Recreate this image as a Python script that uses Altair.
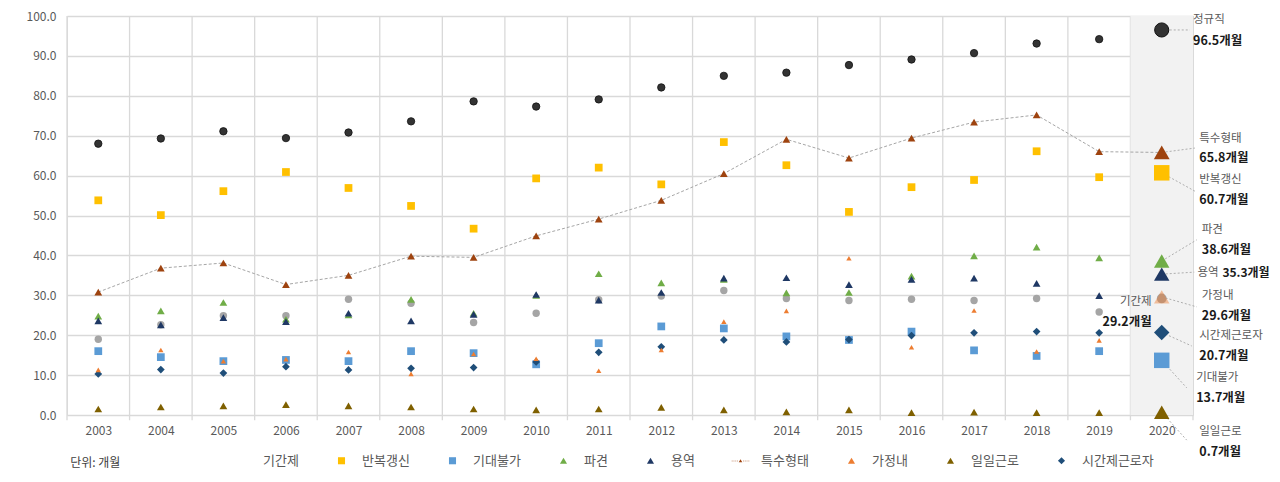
import altair as alt
import pandas as pd

FONT = "Noto Sans CJK KR"

# ---------------- data ----------------
years = list(range(2003, 2021))
s_regular = [68.0, 69.3, 71.1, 69.4, 70.8, 73.6, 78.6, 77.3, 79.1, 82.1, 85.0, 85.8, 87.7, 89.1, 90.7, 93.1, 94.2, 96.5]
s_fixed = [19.0, 22.6, 24.9, 24.9, 29.0, 28.0, 23.2, 25.5, 28.9, 29.8, 31.2, 29.2, 28.7, 29.0, 28.7, 29.2, 25.8, 29.2]
s_renew = [53.8, 50.1, 56.1, 60.9, 56.9, 52.4, 46.7, 59.3, 62.0, 57.8, 68.4, 62.6, 50.9, 57.1, 58.9, 66.1, 59.6, 60.7]
s_noexp = [16.0, 14.5, 13.5, 13.8, 13.5, 16.0, 15.5, 12.7, 18.0, 22.2, 21.7, 19.7, 18.8, 20.9, 16.2, 14.8, 16.0, 13.7]
s_dispatch = [24.8, 26.1, 28.2, 24.0, 25.1, 29.0, 25.5, 30.0, 35.4, 33.1, 34.0, 30.6, 30.7, 34.8, 39.9, 42.1, 39.4, 38.6]
s_service = [23.6, 22.6, 24.4, 23.4, 25.5, 23.6, 25.2, 30.2, 28.8, 30.7, 34.3, 34.4, 32.7, 34.0, 34.3, 33.0, 29.9, 35.3]
s_special = [30.8, 36.8, 38.1, 32.7, 35.0, 39.8, 39.5, 44.9, 49.1, 53.8, 60.5, 69.1, 64.4, 69.4, 73.4, 75.2, 66.0, 65.8]
s_home = [11.3, 16.3, 13.5, 14.0, 15.8, 10.3, 15.3, 14.1, 11.1, 16.3, 23.4, 26.1, 39.3, 17.0, 26.2, 15.9, 18.7, 29.6]
s_daily = [1.5, 2.0, 2.3, 2.6, 2.3, 2.0, 1.5, 1.3, 1.5, 1.9, 1.3, 0.8, 1.3, 0.6, 0.7, 0.6, 0.6, 0.7]
s_parttime = [10.3, 11.4, 10.5, 12.1, 11.3, 11.7, 11.9, 13.3, 15.7, 17.1, 18.8, 18.3, 18.9, 19.9, 20.6, 20.9, 20.6, 20.7]

series_names = ["정규직", "기간제", "반복갱신", "기대불가", "파견", "용역", "특수형태", "가정내", "일일근로", "시간제근로자"]
series_values = [s_regular, s_fixed, s_renew, s_noexp, s_dispatch, s_service, s_special, s_home, s_daily, s_parttime]
legend_order = series_names[1:]
unit_text = "단위: 개월"
value_suffix = "개월"

# ---------------- styles ----------------
colors = {
    "정규직": "#333333", "기간제": "#a5a5a5", "반복갱신": "#ffc000", "기대불가": "#5b9bd5",
    "파견": "#70ad47", "용역": "#1f3864", "특수형태": "#9e430f", "가정내": "#ed7d31",
    "일일근로": "#7f6000", "시간제근로자": "#1f4e79",
}
dash_path = "".join(
    f"M{a},0.02H{a + 0.3}V0.14H{a}Z" for a in [-2.5, -2.0, -1.5, -1.0, 0.7, 1.2, 1.7, 2.2]
)
special_legend_path = dash_path + "M0,-0.45L0.5,0.42L-0.5,0.42Z"
shapes = {
    "기간제": "circle", "반복갱신": "square", "기대불가": "square", "파견": "triangle-up",
    "용역": "triangle-up", "특수형태": special_legend_path, "가정내": "triangle-up",
    "일일근로": "triangle-up", "시간제근로자": "diamond",
}
legend_colors = [("transparent" if s == "기간제" else colors[s]) for s in legend_order]
legend_shapes = [shapes[s] for s in legend_order]

rows = []
for name, vals in zip(series_names, series_values):
    for y, v in zip(years, vals):
        rows.append({"series": name, "x": y, "v": v, "order": series_names.index(name)})
df = pd.DataFrame(rows)
last = years[-1]
hist = df[df.x < last]
cur = df[df.x == last]

xs = alt.Scale(domain=[years[0] - 0.5, last + 0.5], nice=False, zero=False)
ys = alt.Scale(domain=[0, 100], nice=False)
xa = alt.Axis(values=years, title=None, grid=False, ticks=False, tickSize=0, domain=False,
              labelPadding=10, labelFontSize=12, labelColor="#595959", format="d", labelFont=FONT)
ya = alt.Axis(values=list(range(0, 101, 10)), title=None, format=".1f", grid=True,
              gridColor="#d9d9d9", gridWidth=1.3, ticks=False, domain=False, labelPadding=11,
              labelFontSize=12, labelColor="#595959", labelFont=FONT)

def X(f):
    return alt.X(f, scale=xs, axis=xa)

def Y(f):
    return alt.Y(f, scale=ys, axis=ya)

legend = alt.Legend(orient="none", legendX=169, legendY=438, direction="horizontal", title=None,
                    labelFont=FONT, labelFontSize=13, labelColor="#595959", symbolSize=50,
                    labelOffset=14, columnPadding=36, symbolStrokeWidth=0)
color_enc = alt.Color("series:N", scale=alt.Scale(domain=legend_order, range=legend_colors), legend=legend)
shape_enc = alt.Shape("series:N", scale=alt.Scale(domain=legend_order, range=legend_shapes), legend=legend)

# vertical gridlines at category boundaries (with small tick below the axis)
bounds = [y - 0.5 for y in years] + [last + 0.5]
df_vr = pd.DataFrame({"x": bounds, "y0": [-1.3] * len(bounds), "y1": [100] * len(bounds)})
vr = alt.Chart(df_vr).mark_rule(color="#d9d9d9", strokeWidth=1.3).encode(
    x=X("x:Q"), y=Y("y0:Q"), y2="y1:Q")

df_band = pd.DataFrame({"x0": [last - 0.5], "x1": [last + 0.5], "y0": [0], "y1": [100]})
band = alt.Chart(df_band).mark_rect(color="#f2f2f2").encode(
    x=X("x0:Q"), x2="x1:Q", y=Y("y0:Q"), y2="y1:Q")

sp_line = alt.Chart(df[df.series == "특수형태"]).mark_line(
    color="#a6a6a6", strokeDash=[3, 2], strokeWidth=1).encode(x=X("x:Q"), y=Y("v:Q"))

# ---------------- 2020 labels layout ----------------
# series, text x, name y, value y, leader end x, leader end y
label_layout = [
    ("정규직", 2020.50, 99.0, 93.7, 2020.45, 96.5),
    ("특수형태", 2020.60, 69.2, 64.4, 2020.53, 66.9),
    ("반복갱신", 2020.60, 58.9, 53.9, 2020.53, 56.1),
    ("파견", 2020.64, 46.4, 41.4, 2020.56, 43.9),
    ("가정내", 2020.64, 29.8, 24.8, 2020.56, 27.1),
    ("시간제근로자", 2020.60, 19.8, 14.8, 2020.48, 17.3),
    ("기대불가", 2020.55, 9.3, 4.3, 2020.40, 6.8),
    ("일일근로", 2020.60, -4.3, -9.3, 2020.40, -6.3),
]
inline_layout = ("용역", 2020.57, 35.6, 2020.97, 2020.52, 35.8)
left_layout = ("기간제", 2019.84, 28.3, 23.3)

cur_val = dict(zip(cur.series, cur.v))
lab_rows = []
for s, tx, ny, vy, ex, ey in label_layout:
    lab_rows.append({"series": s, "tx": tx, "ny": ny, "vy": vy, "vx": tx,
                     "val": f"{cur_val[s]:.1f}{value_suffix}", "x": last, "v": cur_val[s], "ex": ex, "ey": ey})
df_lab = pd.DataFrame(lab_rows)
s, tx, ny, vx, ex, ey = inline_layout
df_inl = pd.DataFrame([{"series": s, "tx": tx, "ny": ny, "vy": ny, "vx": vx,
                        "val": f"{cur_val[s]:.1f}{value_suffix}", "x": last, "v": cur_val[s], "ex": ex, "ey": ey}])
df_lead = pd.concat([df_lab, df_inl], ignore_index=True)
s, tx, ny, vy = left_layout
df_left = pd.DataFrame([{"series": s, "tx": tx, "ny": ny, "vy": vy,
                         "val": f"{cur_val[s]:.1f}{value_suffix}"}])

leaders = alt.Chart(df_lead).mark_rule(color="#a6a6a6", strokeDash=[2, 2], strokeWidth=0.9).encode(
    x=X("x:Q"), y=Y("v:Q"), x2="ex:Q", y2="ey:Q")

NAME_FS = 11.5
VAL_FS = 12.5
name_txt = alt.Chart(df_lead).mark_text(align="left", baseline="middle", fontSize=NAME_FS, color="#595959", font=FONT).encode(
    x=X("tx:Q"), y=Y("ny:Q"), text="series:N")
val_txt = alt.Chart(df_lab).mark_text(align="left", baseline="middle", fontSize=VAL_FS, fontWeight="bold", color="#1a1a1a", font=FONT).encode(
    x=X("vx:Q"), y=Y("vy:Q"), text="val:N")
inl_val = alt.Chart(df_inl).mark_text(align="left", baseline="middle", fontSize=12, fontWeight="bold", color="#1a1a1a", font=FONT).encode(
    x=X("vx:Q"), y=Y("vy:Q"), text="val:N")
left_name = alt.Chart(df_left).mark_text(align="right", baseline="middle", fontSize=NAME_FS, color="#595959", font=FONT).encode(
    x=X("tx:Q"), y=Y("ny:Q"), text="series:N")
left_val = alt.Chart(df_left).mark_text(align="right", baseline="middle", fontSize=VAL_FS, fontWeight="bold", color="#1a1a1a", font=FONT).encode(
    x=X("tx:Q"), y=Y("vy:Q"), text="val:N")

df_unit = pd.DataFrame({"x": [2002.55], "v": [-12.0], "t": [unit_text]})
unit = alt.Chart(df_unit).mark_text(align="left", baseline="middle", fontSize=12, color="#404040", font=FONT).encode(
    x=X("x:Q"), y=Y("v:Q"), text="t:N")

# ---------------- points ----------------
main_series = ["반복갱신", "기대불가", "파견", "용역", "일일근로", "시간제근로자"]

gi_pts = alt.Chart(hist[hist.series == "기간제"]).mark_point(
    filled=True, shape="circle", size=55, color=colors["기간제"], opacity=1).encode(x=X("x:Q"), y=Y("v:Q"))
main_pts = alt.Chart(hist[hist.series.isin(main_series)]).mark_point(filled=True, size=60, opacity=1).encode(
    x=X("x:Q"), y=Y("v:Q"), color=color_enc, shape=shape_enc, order="order:Q")
home_pts = alt.Chart(hist[hist.series == "가정내"]).mark_point(filled=True, size=28, opacity=1).encode(
    x=X("x:Q"), y=Y("v:Q"), color=color_enc, shape=shape_enc)
sp_pts = alt.Chart(hist[hist.series == "특수형태"]).mark_point(
    filled=True, shape="triangle-up", size=60, color=colors["특수형태"], opacity=1).encode(x=X("x:Q"), y=Y("v:Q"))
reg_pts = alt.Chart(hist[hist.series == "정규직"]).mark_point(
    filled=True, shape="circle", size=55, color=colors["정규직"], opacity=1, stroke="#111111", strokeWidth=0.8).encode(
    x=X("x:Q"), y=Y("v:Q"))

gi20 = alt.Chart(cur[cur.series == "기간제"]).mark_point(
    filled=True, shape="circle", size=95, color=colors["기간제"], opacity=1).encode(x=X("x:Q"), y=Y("v:Q"))
main20 = alt.Chart(cur[cur.series.isin(main_series)]).mark_point(filled=True, size=240, opacity=1).encode(
    x=X("x:Q"), y=Y("v:Q"), color=color_enc, shape=shape_enc, order="order:Q")
home20 = alt.Chart(cur[cur.series == "가정내"]).mark_point(
    filled=True, shape="triangle-up", size=240, color=colors["가정내"], opacity=0.45).encode(x=X("x:Q"), y=Y("v:Q"))
sp20 = alt.Chart(cur[cur.series == "특수형태"]).mark_point(
    filled=True, shape="triangle-up", size=250, color=colors["특수형태"], opacity=1).encode(x=X("x:Q"), y=Y("v:Q"))
reg20 = alt.Chart(cur[cur.series == "정규직"]).mark_point(
    filled=True, shape="circle", size=200, color=colors["정규직"], opacity=1, stroke="#111111", strokeWidth=1).encode(
    x=X("x:Q"), y=Y("v:Q"))

chart = alt.layer(
    vr, band, sp_line, leaders,
    gi_pts, main_pts, home_pts, sp_pts, reg_pts,
    gi20, main20, home20, sp20, reg20,
    name_txt, val_txt, inl_val, left_name, left_val, unit,
).properties(
    width=1126, height=399,
    autosize=alt.AutoSizeParams(type="none"),
    padding={"left": 59, "top": 8, "right": 79, "bottom": 59},
).configure_view(stroke=None).configure(font=FONT)

chart.save("out.html", embed_options={"renderer": "svg", "actions": False})
